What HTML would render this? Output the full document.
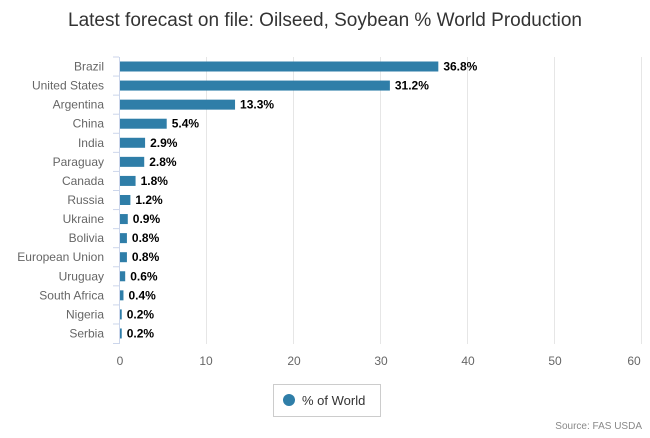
<!DOCTYPE html>
<html><head><meta charset="utf-8"><style>
body{margin:0;background:#fff;width:650px;height:433px;overflow:hidden;font-family:"Liberation Sans",sans-serif}
</style></head><body>
<svg width="650" height="433" xmlns="http://www.w3.org/2000/svg" font-family="Liberation Sans, sans-serif">
<text x="325" y="26" text-anchor="middle" font-size="19" fill="#333">Latest forecast on file: Oilseed, Soybean % World Production</text>
<g stroke="#e6e6e6" stroke-width="1">
<line x1="206.5" y1="57" x2="206.5" y2="344"/><line x1="293.5" y1="57" x2="293.5" y2="344"/>
<line x1="380.5" y1="57" x2="380.5" y2="344"/><line x1="467.5" y1="57" x2="467.5" y2="344"/>
<line x1="554.5" y1="57" x2="554.5" y2="344"/><line x1="641.5" y1="57" x2="641.5" y2="344"/>
</g>
<line x1="119.5" y1="57" x2="119.5" y2="344" stroke="#ccd6eb"/>
<g id="rows" font-size="12"></g>
<g font-size="12" fill="#666" text-anchor="middle">
<text x="120" y="365">0</text><text x="206" y="365">10</text><text x="294" y="365">20</text>
<text x="381" y="365">30</text><text x="468" y="365">40</text><text x="555" y="365">50</text><text x="634" y="365">60</text>
</g>
<rect x="273.5" y="384.5" width="107" height="32" fill="#fff" stroke="#ccc"/>
<circle cx="289" cy="400" r="6" fill="#2f7ea8"/>
<text x="302" y="405" font-size="13" fill="#333">% of World</text>
<text x="642" y="429" text-anchor="end" font-size="10" fill="#888">Source: FAS USDA</text>
</svg>
<script>
var d=[["Brazil",36.8],["United States",31.2],["Argentina",13.3],["China",5.4],["India",2.9],["Paraguay",2.8],["Canada",1.8],["Russia",1.2],["Ukraine",0.9],["Bolivia",0.8],["European Union",0.8],["Uruguay",0.6],["South Africa",0.4],["Nigeria",0.2],["Serbia",0.2]];
var g=document.getElementById("rows"),s="";
d.forEach(function(r,i){var y=66.5+i*19.07,w=r[1]*8.65;
s+='<line x1="113" x2="119" y1="'+(y-9.5)+'" y2="'+(y-9.5)+'" stroke="#ccd6eb"/>';
s+='<text x="104" y="'+(y+4)+'" text-anchor="end" fill="#666">'+r[0]+'</text>';
s+='<rect x="120" y="'+(y-5)+'" width="'+w+'" height="10" fill="#2f7ea8"/>';
s+='<text x="'+(125+w)+'" y="'+(y+4)+'" font-weight="bold" fill="#000">'+r[1].toFixed(1)+'%</text>';});
s+='<line x1="113" x2="119" y1="343.5" y2="343.5" stroke="#ccd6eb"/>';
g.innerHTML=s;
</script>
</body></html>
